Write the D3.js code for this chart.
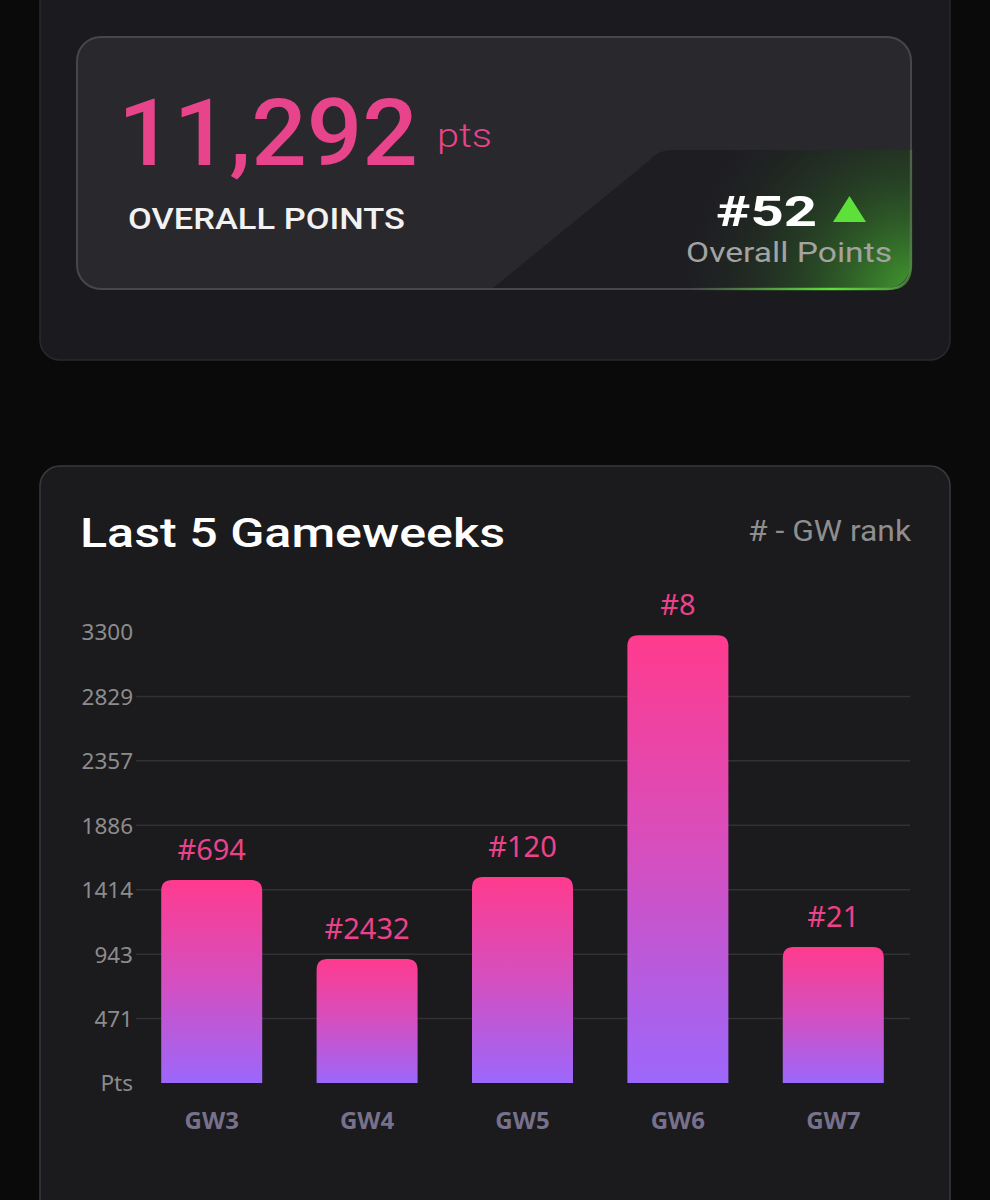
<!DOCTYPE html>
<html><head><meta charset="utf-8">
<script src="https://cdn.jsdelivr.net/npm/d3@7"></script>
<style>html,body{margin:0;padding:0;background:#0a0a0b;}svg{display:block;}</style>
</head><body>
<script>
const gameweeks = ["GW3","GW4","GW5","GW6","GW7"];
const points = [1485, 907, 1507, 3277, 995];
const ranks = ["#694","#2432","#120","#8","#21"];
const tickValues = [0, 471.43, 942.86, 1414.29, 1885.71, 2357.14, 2828.57, 3300];
const tickLabels = ["Pts","471","943","1414","1886","2357","2829","3300"];
const totalPoints = "11,292";
const overallRank = "#52";

const W = 990, H = 1200;
const svg = d3.select("body").append("svg").attr("width", W).attr("height", H);
const defs = svg.append("defs");

svg.append("rect").attr("width", W).attr("height", H).attr("fill", "#0a0a0b");

// ---- top panel ----
svg.append("rect").attr("x", 40).attr("y", -40).attr("width", 910).attr("height", 400)
  .attr("rx", 20).attr("fill", "#1b1a1e").attr("stroke", "#2a292e").attr("stroke-width", 1.5);

defs.append("clipPath").attr("id", "cardClip")
  .append("rect").attr("x", 77).attr("y", 37).attr("width", 834).attr("height", 252).attr("rx", 24);

svg.append("rect").attr("x", 77).attr("y", 37).attr("width", 834).attr("height", 252).attr("rx", 24)
  .attr("fill", "#29282d");

const rg = defs.append("radialGradient").attr("id", "greenGlow")
  .attr("gradientUnits", "userSpaceOnUse").attr("cx", 912).attr("cy", 290).attr("r", 250);
rg.append("stop").attr("offset", "0%").attr("stop-color", "#45a830").attr("stop-opacity", 0.9);
rg.append("stop").attr("offset", "45%").attr("stop-color", "#2e6226").attr("stop-opacity", 0.5);
rg.append("stop").attr("offset", "100%").attr("stop-color", "#1e1d22").attr("stop-opacity", 0);

const cardG = svg.append("g").attr("clip-path", "url(#cardClip)");
const shapePath = "M672,150 L915,150 L915,292 L488,292 L650,160 Q658,150 672,150 Z";
cardG.append("path").attr("d", shapePath).attr("fill", "#1e1d22");
cardG.append("path").attr("d", shapePath).attr("fill", "url(#greenGlow)");

svg.append("rect").attr("x", 77).attr("y", 37).attr("width", 834).attr("height", 252).attr("rx", 24)
  .attr("fill", "none").attr("stroke", "#47464b").attr("stroke-width", 2);

const lg = defs.append("linearGradient").attr("id", "greenEdge")
  .attr("gradientUnits", "userSpaceOnUse").attr("x1", 690).attr("y1", 288).attr("x2", 912).attr("y2", 200);
lg.append("stop").attr("offset", "0%").attr("stop-color", "#5ee03a").attr("stop-opacity", 0);
lg.append("stop").attr("offset", "55%").attr("stop-color", "#5ee03a").attr("stop-opacity", 1);
lg.append("stop").attr("offset", "100%").attr("stop-color", "#5ee03a").attr("stop-opacity", 0.2);
svg.append("path").attr("d", "M690,289 L887,289 Q911,289 911,265 L911,150")
  .attr("fill", "none").attr("stroke", "url(#greenEdge)").attr("stroke-width", 2.5);

svg.append("text").text(totalPoints).attr("x", 118).attr("y", 165)
  .attr("font-family", "Roboto").attr("font-weight", 500).attr("font-size", 92)
  .attr("textLength", 300).attr("lengthAdjust", "spacingAndGlyphs").attr("fill", "#e8448c");
svg.append("text").text("pts").attr("x", 437).attr("y", 147)
  .attr("font-family", "Roboto").attr("font-weight", 300).attr("font-size", 34)
  .attr("textLength", 55).attr("lengthAdjust", "spacingAndGlyphs").attr("fill", "#e8448c");
svg.append("text").text("OVERALL POINTS").attr("x", 128).attr("y", 229)
  .attr("font-family", "Roboto").attr("font-weight", 500).attr("font-size", 30)
  .attr("textLength", 277).attr("lengthAdjust", "spacingAndGlyphs").attr("fill", "#f2f2f2");

svg.append("text").text(overallRank).attr("x", 716).attr("y", 226)
  .attr("font-family", "Roboto").attr("font-weight", 700).attr("font-size", 42)
  .attr("textLength", 101).attr("lengthAdjust", "spacingAndGlyphs").attr("fill", "#ffffff");
svg.append("path").attr("d", "M849.5,196 L866,222 L833,222 Z").attr("fill", "#5ee03a");
svg.append("text").text("Overall Points").attr("x", 686).attr("y", 262)
  .attr("font-family", "Roboto").attr("font-weight", 400).attr("font-size", 27)
  .attr("textLength", 206).attr("lengthAdjust", "spacingAndGlyphs").attr("fill", "#a3a3a3");

// ---- chart panel ----
svg.append("rect").attr("x", 40).attr("y", 466).attr("width", 910).attr("height", 780)
  .attr("rx", 20).attr("fill", "#1b1a1d").attr("stroke", "#3a393e").attr("stroke-width", 1.5);

svg.append("text").text("Last 5 Gameweeks").attr("x", 80).attr("y", 547)
  .attr("font-family", "Roboto").attr("font-weight", 500).attr("font-size", 41)
  .attr("textLength", 425).attr("lengthAdjust", "spacingAndGlyphs").attr("fill", "#ffffff");
svg.append("text").text("# - GW rank").attr("x", 748).attr("y", 541)
  .attr("font-family", "Roboto").attr("font-weight", 400).attr("font-size", 29)
  .attr("textLength", 163).attr("lengthAdjust", "spacingAndGlyphs")
  .attr("fill", "#8e8e8e");

const y = d3.scaleLinear().domain([0, 3300]).range([1083, 632]);
const x = d3.scaleBand().domain(gameweeks).range([134, 911]).paddingInner(0.35).paddingOuter(0.175);

// gridlines
svg.append("g").selectAll("line").data(tickValues.filter(v => v > 0 && v < 3300)).join("line")
  .attr("x1", 136).attr("x2", 910).attr("y1", d => y(d)).attr("y2", d => y(d))
  .attr("stroke", "#323136").attr("stroke-width", 1.5);

// y axis
const yAxis = d3.axisLeft(y).tickValues(tickValues)
  .tickFormat((d, i) => tickLabels[i]).tickSize(0).tickPadding(0);
const yg = svg.append("g").attr("transform", "translate(133,0)").call(yAxis);
yg.select(".domain").remove();
yg.selectAll("text").attr("font-family", "Noto Sans").attr("font-size", 22.5)
  .attr("fill", "#8c8c8c").attr("dy", "0.35em");

// bar gradient
const bg = defs.append("linearGradient").attr("id", "barGrad").attr("x1", 0).attr("y1", 0).attr("x2", 0).attr("y2", 1);
bg.append("stop").attr("offset", "0%").attr("stop-color", "#ff3b8e");
bg.append("stop").attr("offset", "50%").attr("stop-color", "#d44fc0");
bg.append("stop").attr("offset", "100%").attr("stop-color", "#9c67fb");

const r = 11;
function barPath(d) {
  const x0 = x(d.gw), w = x.bandwidth(), top = y(d.v), bot = y(0);
  return `M${x0},${bot} L${x0},${top + r} Q${x0},${top} ${x0 + r},${top} L${x0 + w - r},${top} Q${x0 + w},${top} ${x0 + w},${top + r} L${x0 + w},${bot} Z`;
}
const data = gameweeks.map((gw, i) => ({ gw, v: points[i], rank: ranks[i] }));
svg.append("g").selectAll("path").data(data).join("path")
  .attr("d", barPath).attr("fill", "url(#barGrad)");

svg.append("g").selectAll("text").data(data).join("text")
  .attr("x", d => x(d.gw) + x.bandwidth() / 2).attr("y", d => y(d.v) - 20)
  .attr("text-anchor", "middle").attr("font-family", "Noto Sans").attr("font-size", 29)
  .attr("fill", "#ea438c").text(d => d.rank);

// x axis
const xAxis = d3.axisBottom(x).tickSize(0).tickPadding(0);
const xg = svg.append("g").attr("transform", "translate(0,1121)").call(xAxis);
xg.select(".domain").remove();
xg.selectAll("text").attr("font-family", "Open Sans").attr("font-weight", 700).attr("font-size", 24)
  .attr("fill", "#77718b").attr("dy", "0.35em");
</script>
</body></html>
